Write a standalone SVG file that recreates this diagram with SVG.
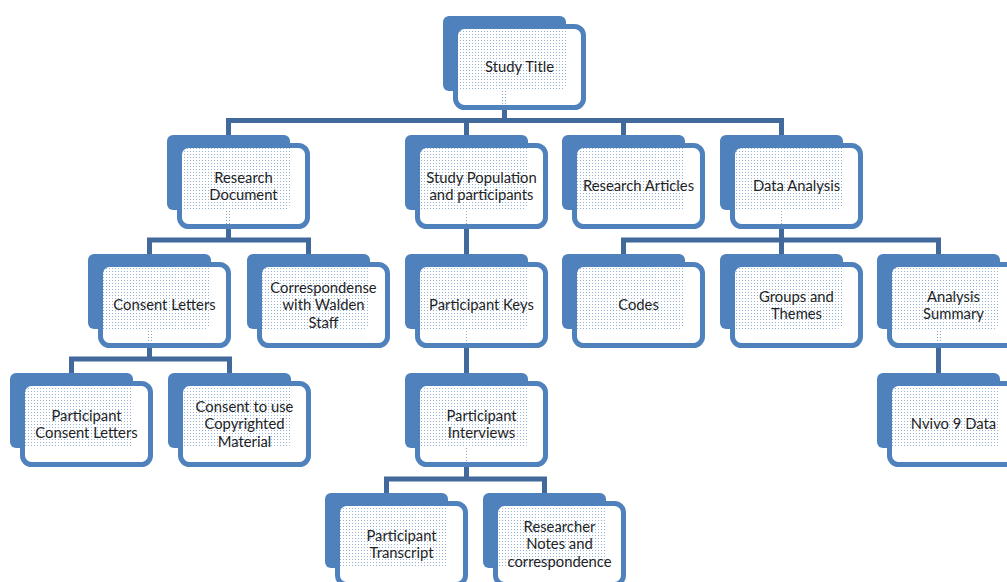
<svg xmlns="http://www.w3.org/2000/svg" width="1007" height="582" viewBox="0 0 1007 582">
<defs>
<pattern id="dots" width="3" height="3" patternUnits="userSpaceOnUse">
<path d="M0 0H3V1H0Z M0 1H1V2H0Z M2 1H3V2H2Z M0 2H3V3H0Z" fill="#ffffff"/>
<rect x="1" y="1" width="1" height="1" fill="#ffffff" fill-opacity="0.4"/>
<rect x="0" y="0" width="1" height="1" fill="#ffffff" fill-opacity="0.85"/>
</pattern>
</defs>
<style>
.back{fill:#4f81bd}
.front{fill:url(#dots);stroke:#4f81bd;stroke-width:5}
.conn{fill:none;stroke:#41699c;stroke-width:5;stroke-linejoin:miter;stroke-linecap:butt}
text{font-family:Lato,"Liberation Sans",sans-serif;font-size:14.8px;fill:#1f1f1f;text-anchor:middle}
</style>
<rect width="1007" height="582" fill="#ffffff"/>

<g id="backs">
<rect class="back" x="443" y="16" width="123" height="75" rx="6"/>
<rect class="back" x="167" y="135" width="123" height="75" rx="6"/>
<rect class="back" x="405" y="135" width="123" height="75" rx="6"/>
<rect class="back" x="562" y="135" width="123" height="75" rx="6"/>
<rect class="back" x="720" y="135" width="123" height="75" rx="6"/>
<rect class="back" x="88" y="254" width="123" height="75" rx="6"/>
<rect class="back" x="247" y="254" width="123" height="75" rx="6"/>
<rect class="back" x="405" y="254" width="123" height="75" rx="6"/>
<rect class="back" x="562" y="254" width="123" height="75" rx="6"/>
<rect class="back" x="720" y="254" width="123" height="75" rx="6"/>
<rect class="back" x="877" y="254" width="123" height="75" rx="6"/>
<rect class="back" x="10" y="373" width="123" height="75" rx="6"/>
<rect class="back" x="168" y="373" width="123" height="75" rx="6"/>
<rect class="back" x="405" y="373" width="123" height="75" rx="6"/>
<rect class="back" x="877" y="373" width="123" height="75" rx="6"/>
<rect class="back" x="325" y="493" width="123" height="75" rx="6"/>
<rect class="back" x="483" y="493" width="123" height="75" rx="6"/>
</g>

<g id="connectors">
<path class="conn" d="M504.5 91V120.5"/>
<path class="conn" d="M228.5 135V120.5H781.5V135"/>
<path class="conn" d="M466.5 120.5V135 M623.5 120.5V135"/>
<path class="conn" d="M228.5 210V240"/>
<path class="conn" d="M149.5 254V240H308.5V254"/>
<path class="conn" d="M466.5 210V254"/>
<path class="conn" d="M781.5 210V240"/>
<path class="conn" d="M623.5 254V240H938.5V254 M781.5 240V254"/>
<path class="conn" d="M149.5 329V359"/>
<path class="conn" d="M71.5 373V359H229.5V373"/>
<path class="conn" d="M466.5 329V373"/>
<path class="conn" d="M938.5 329V373"/>
<path class="conn" d="M466.5 448V479"/>
<path class="conn" d="M386.5 493V479H544.5V493"/>
</g>

<g id="n-title"><rect class="front" x="455.5" y="26.5" width="128" height="81" rx="9"/><text x="519.5" y="72">Study Title</text></g>
<g id="n-resdoc"><rect class="front" x="179.5" y="145.5" width="128" height="81" rx="9"/><text x="243.5" y="182.5">Research</text><text x="243.5" y="199.5">Document</text></g>
<g id="n-studypop"><rect class="front" x="417.5" y="145.5" width="128" height="81" rx="9"/><text x="481.5" y="182.5">Study Population</text><text x="481.5" y="199.5">and participants</text></g>
<g id="n-resart"><rect class="front" x="574.5" y="145.5" width="128" height="81" rx="9"/><text x="638.5" y="191">Research Articles</text></g>
<g id="n-data"><rect class="front" x="732.5" y="145.5" width="128" height="81" rx="9"/><text x="796.5" y="191">Data Analysis</text></g>
<g id="n-consent"><rect class="front" x="100.5" y="264.5" width="128" height="81" rx="9"/><text x="164.5" y="310">Consent Letters</text></g>
<g id="n-corr"><rect class="front" x="259.5" y="264.5" width="128" height="81" rx="9"/><text x="323.5" y="293">Correspondense</text><text x="323.5" y="310">with Walden</text><text x="323.5" y="327.5">Staff</text></g>
<g id="n-keys"><rect class="front" x="417.5" y="264.5" width="128" height="81" rx="9"/><text x="481.5" y="310">Participant Keys</text></g>
<g id="n-codes"><rect class="front" x="574.5" y="264.5" width="128" height="81" rx="9"/><text x="638.5" y="310">Codes</text></g>
<g id="n-groups"><rect class="front" x="732.5" y="264.5" width="128" height="81" rx="9"/><text x="796.5" y="301.5">Groups and</text><text x="796.5" y="318.5">Themes</text></g>
<g id="n-summary"><rect class="front" x="889.5" y="264.5" width="128" height="81" rx="9"/><text x="953.5" y="301.5">Analysis</text><text x="953.5" y="318.5">Summary</text></g>
<g id="n-pcl"><rect class="front" x="22.5" y="383.5" width="128" height="81" rx="9"/><text x="86.5" y="420.5">Participant</text><text x="86.5" y="437.5">Consent Letters</text></g>
<g id="n-copy"><rect class="front" x="180.5" y="383.5" width="128" height="81" rx="9"/><text x="244.5" y="412">Consent to use</text><text x="244.5" y="429">Copyrighted</text><text x="244.5" y="446.5">Material</text></g>
<g id="n-interviews"><rect class="front" x="417.5" y="383.5" width="128" height="81" rx="9"/><text x="481.5" y="420.5">Participant</text><text x="481.5" y="437.5">Interviews</text></g>
<g id="n-nvivo"><rect class="front" x="889.5" y="383.5" width="128" height="81" rx="9"/><text x="953.5" y="429">Nvivo 9 Data</text></g>
<g id="n-transcript"><rect class="front" x="337.5" y="503.5" width="128" height="81" rx="9"/><text x="401.5" y="540.5">Participant</text><text x="401.5" y="557.5">Transcript</text></g>
<g id="n-notes"><rect class="front" x="495.5" y="503.5" width="128" height="81" rx="9"/><text x="559.5" y="532">Researcher</text><text x="559.5" y="549">Notes and</text><text x="559.5" y="566.5">correspondence</text></g>
</svg>
